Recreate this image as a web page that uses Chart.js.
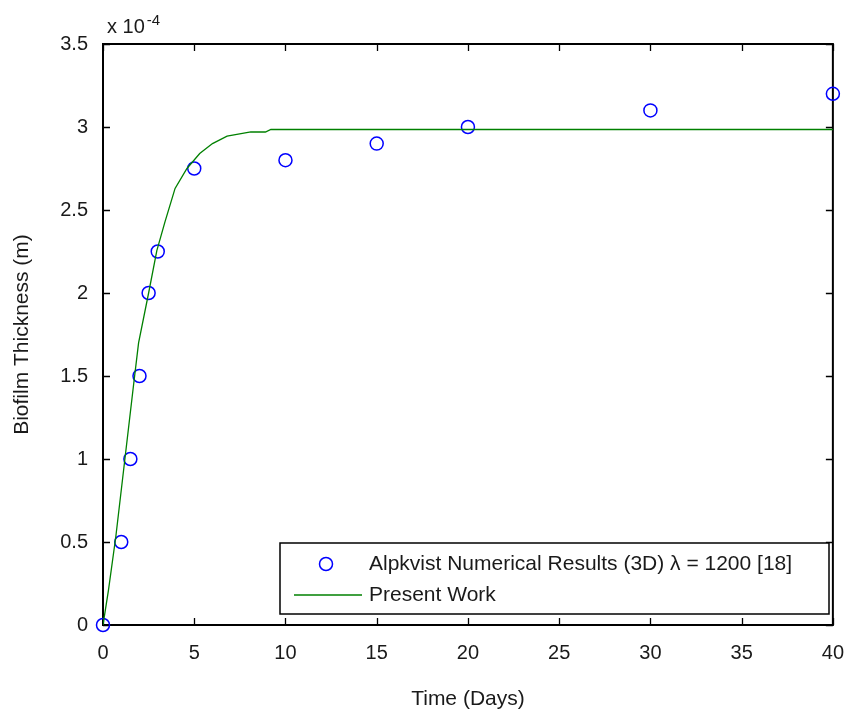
<!DOCTYPE html>
<html>
<head>
<meta charset="utf-8">
<script src="https://cdn.jsdelivr.net/npm/chart.js@4.4.1/dist/chart.umd.min.js"></script>
<style>
  html, body { margin: 0; padding: 0; background: #fff; }
  #wrap { width: 852px; height: 712px; position: relative; }
</style>
</head>
<body>
<div id="wrap"><canvas id="chart"></canvas></div>
<script>
// Alpkvist numerical results (3D), thickness in units of 1e-4 m
const alpkvistDays = [0, 1, 1.5, 2, 2.5, 3, 5, 10, 15, 20, 30, 40];
const alpkvistThickness = [0, 0.5, 1.0, 1.5, 2.0, 2.25, 2.75, 2.8, 2.9, 3.0, 3.1, 3.2];

// Present work curve
const presentDays = [0, 0.3, 0.7, 1.2, 1.7, 1.95, 2.5, 2.95, 3.4, 3.95, 4.6, 5.3, 6.0, 6.8, 8.1, 8.9, 9.2, 40];
const presentThickness = [0, 0.21, 0.53, 1.0, 1.47, 1.7, 2.0, 2.255, 2.43, 2.63, 2.75, 2.84, 2.9, 2.945, 2.97, 2.97, 2.985, 2.985];

const xTicks = [0, 5, 10, 15, 20, 25, 30, 35, 40];
const yTicks = [0, 0.5, 1, 1.5, 2, 2.5, 3, 3.5];

const seriesLabels = ['Alpkvist Numerical Results (3D) \u03BB = 1200 [18]', 'Present Work'];

const FONT = "'Liberation Sans', Arial, Helvetica, sans-serif";
const TEXT = '#1a1a1a';

const toXY = (xs, ys) => xs.map((x, i) => ({ x: x, y: ys[i] }));

// MATLAB style box with inward ticks, legend and exponent label
const matlabAxes = {
    id: 'matlabAxes',
    beforeDatasetsDraw(chart) {
        const { ctx, chartArea: a, scales } = chart;
        ctx.save();
        ctx.strokeStyle = '#000';
        ctx.lineWidth = 1.3;
        const tl = 7;
        ctx.beginPath();
        xTicks.forEach(v => {
            const px = Math.round(scales.x.getPixelForValue(v)) + 0.5;
            ctx.moveTo(px, a.bottom); ctx.lineTo(px, a.bottom - tl);
            ctx.moveTo(px, a.top); ctx.lineTo(px, a.top + tl);
        });
        yTicks.forEach(v => {
            const py = Math.round(scales.y.getPixelForValue(v)) + 0.5;
            ctx.moveTo(a.left, py); ctx.lineTo(a.left + tl, py);
            ctx.moveTo(a.right, py); ctx.lineTo(a.right - tl, py);
        });
        ctx.stroke();
        ctx.lineWidth = 2;
        ctx.strokeRect(a.left, a.top, a.right - a.left, a.bottom - a.top);
        ctx.restore();
    },
    afterDraw(chart) {
        const { ctx, chartArea: a } = chart;
        ctx.save();
        // exponent label
        ctx.fillStyle = TEXT;
        ctx.textBaseline = 'alphabetic';
        ctx.textAlign = 'left';
        ctx.font = '20px ' + FONT;
        ctx.fillText('x 10', a.left + 4, 33);
        const w = ctx.measureText('x 10').width;
        ctx.font = '15px ' + FONT;
        ctx.fillText('-4', a.left + w + 6, 25);

        // legend
        const lx = 280, ly = 543, lw = 549, lh = 71;
        ctx.fillStyle = '#fff';
        ctx.fillRect(lx, ly, lw, lh);
        ctx.strokeStyle = '#000';
        ctx.lineWidth = 1.5;
        ctx.strokeRect(lx, ly, lw, lh);

        ctx.strokeStyle = '#0000ff';
        ctx.lineWidth = 1.5;
        ctx.beginPath();
        ctx.arc(326, 564, 6.5, 0, Math.PI * 2);
        ctx.stroke();

        ctx.strokeStyle = '#008000';
        ctx.lineWidth = 1.3;
        ctx.beginPath();
        ctx.moveTo(294, 595); ctx.lineTo(362, 595);
        ctx.stroke();

        ctx.fillStyle = TEXT;
        ctx.font = '21px ' + FONT;
        ctx.textBaseline = 'middle';
        ctx.fillText(seriesLabels[0], 369, 564);
        ctx.fillText(seriesLabels[1], 369, 595);
        ctx.restore();
    }
};

Chart.defaults.font.family = FONT;
Chart.defaults.color = TEXT;

new Chart(document.getElementById('chart').getContext('2d'), {
    type: 'scatter',
    data: {
        datasets: [
            {
                label: seriesLabels[0],
                data: toXY(alpkvistDays, alpkvistThickness),
                pointStyle: 'circle',
                pointRadius: 6.5,
                pointBorderWidth: 1.5,
                borderColor: '#0000ff',
                backgroundColor: 'rgba(0,0,0,0)',
                showLine: false,
                clip: false,
                order: 2
            },
            {
                label: seriesLabels[1],
                data: toXY(presentDays, presentThickness),
                showLine: true,
                pointRadius: 0,
                borderColor: '#008000',
                borderWidth: 1.3,
                tension: 0,
                order: 1
            }
        ]
    },
    options: {
        responsive: true,
        maintainAspectRatio: false,
        animation: false,
        devicePixelRatio: 1,
        layout: { padding: { top: 44, right: 14, left: 0, bottom: 0 } },
        plugins: {
            legend: { display: false },
            tooltip: { enabled: false }
        },
        scales: {
            x: {
                type: 'linear',
                min: 0,
                max: 40,
                afterBuildTicks: s => { s.ticks = xTicks.map(v => ({ value: v })); },
                afterFit: s => { s.height = 87; },
                grid: { display: false },
                border: { display: false },
                ticks: { font: { size: 20 }, padding: 8, maxRotation: 0, callback: v => String(v) },
                title: {
                    display: true,
                    text: 'Time (Days)',
                    font: { size: 21 },
                    padding: { top: 12, bottom: 0 }
                }
            },
            y: {
                type: 'linear',
                min: 0,
                max: 3.5,
                afterBuildTicks: s => { s.ticks = yTicks.map(v => ({ value: v })); },
                afterFit: s => { s.width = 103; },
                grid: { display: false },
                border: { display: false },
                ticks: { font: { size: 20 }, padding: 7, callback: v => String(v) },
                title: {
                    display: true,
                    text: 'Biofilm Thickness (m)',
                    font: { size: 21 },
                    padding: { top: 10, bottom: 0 }
                }
            }
        }
    },
    plugins: [matlabAxes]
});
</script>
</body>
</html>
